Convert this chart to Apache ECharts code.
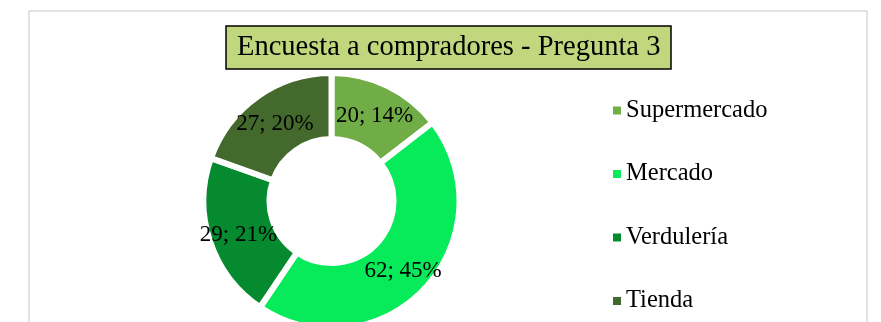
<!DOCTYPE html>
<html>
<head>
<meta charset="utf-8">
<script src="https://cdn.jsdelivr.net/npm/echarts@6/dist/echarts.min.js"></script>
<style>
  html, body { margin: 0; padding: 0; background: #ffffff; }
  #chart { width: 881px; height: 322px; }
</style>
</head>
<body>
<div id="chart"></div>
<script>
// Survey answers, question 3
const categories = ['Supermercado', 'Mercado', 'Verdulería', 'Tienda'];
const values = [20, 62, 29, 27];
const sliceColors = ['#70ad47', '#07ea5a', '#058a30', '#44692d'];
const titleText = 'Encuesta a compradores - Pregunta 3';

const serif = "'Liberation Serif', 'Times New Roman', serif";
const total = values.reduce((a, b) => a + b, 0);

const chart = echarts.init(document.getElementById('chart'), null, { renderer: 'canvas' });

chart.setOption({
  backgroundColor: '#ffffff',
  animation: false,
  color: sliceColors,
  graphic: [{
    type: 'rect',
    shape: { x: 29, y: 11, width: 838, height: 340 },
    style: { fill: 'none', stroke: '#d9d9d9', lineWidth: 1.5 },
    silent: true,
    z: -1
  }],
  title: {
    text: titleText,
    left: 226,
    top: 26,
    padding: [7, 11, 7, 11],
    backgroundColor: '#c0d77e',
    borderColor: '#000000',
    borderWidth: 1.5,
    textStyle: {
      fontFamily: serif,
      fontSize: 28.5,
      fontWeight: 'normal',
      color: '#000000'
    }
  },
  legend: {
    orient: 'vertical',
    left: 608,
    top: 93,
    height: 300,
    icon: 'rect',
    itemWidth: 8,
    itemHeight: 8,
    itemGap: 38.5,
    itemStyle: { borderWidth: 0 },
    data: categories,
    textStyle: {
      fontFamily: serif,
      fontSize: 24.5,
      color: '#000000'
    }
  },
  series: [{
    type: 'pie',
    center: [331.5, 201],
    radius: [62, 128],
    startAngle: 90,
    clockwise: true,
    avoidLabelOverlap: false,
    itemStyle: {
      borderColor: '#ffffff',
      borderWidth: 6
    },
    label: {
      show: true,
      position: 'inside',
      offset: [0, 3],
      fontFamily: serif,
      fontSize: 23,
      color: '#000000',
      formatter: p => p.value + '; ' + Math.round(p.value / total * 100) + '%'
    },
    labelLine: { show: false },
    emphasis: { disabled: true },
    data: categories.map((name, i) => ({ name, value: values[i] }))
  }]
});
</script>
</body>
</html>
